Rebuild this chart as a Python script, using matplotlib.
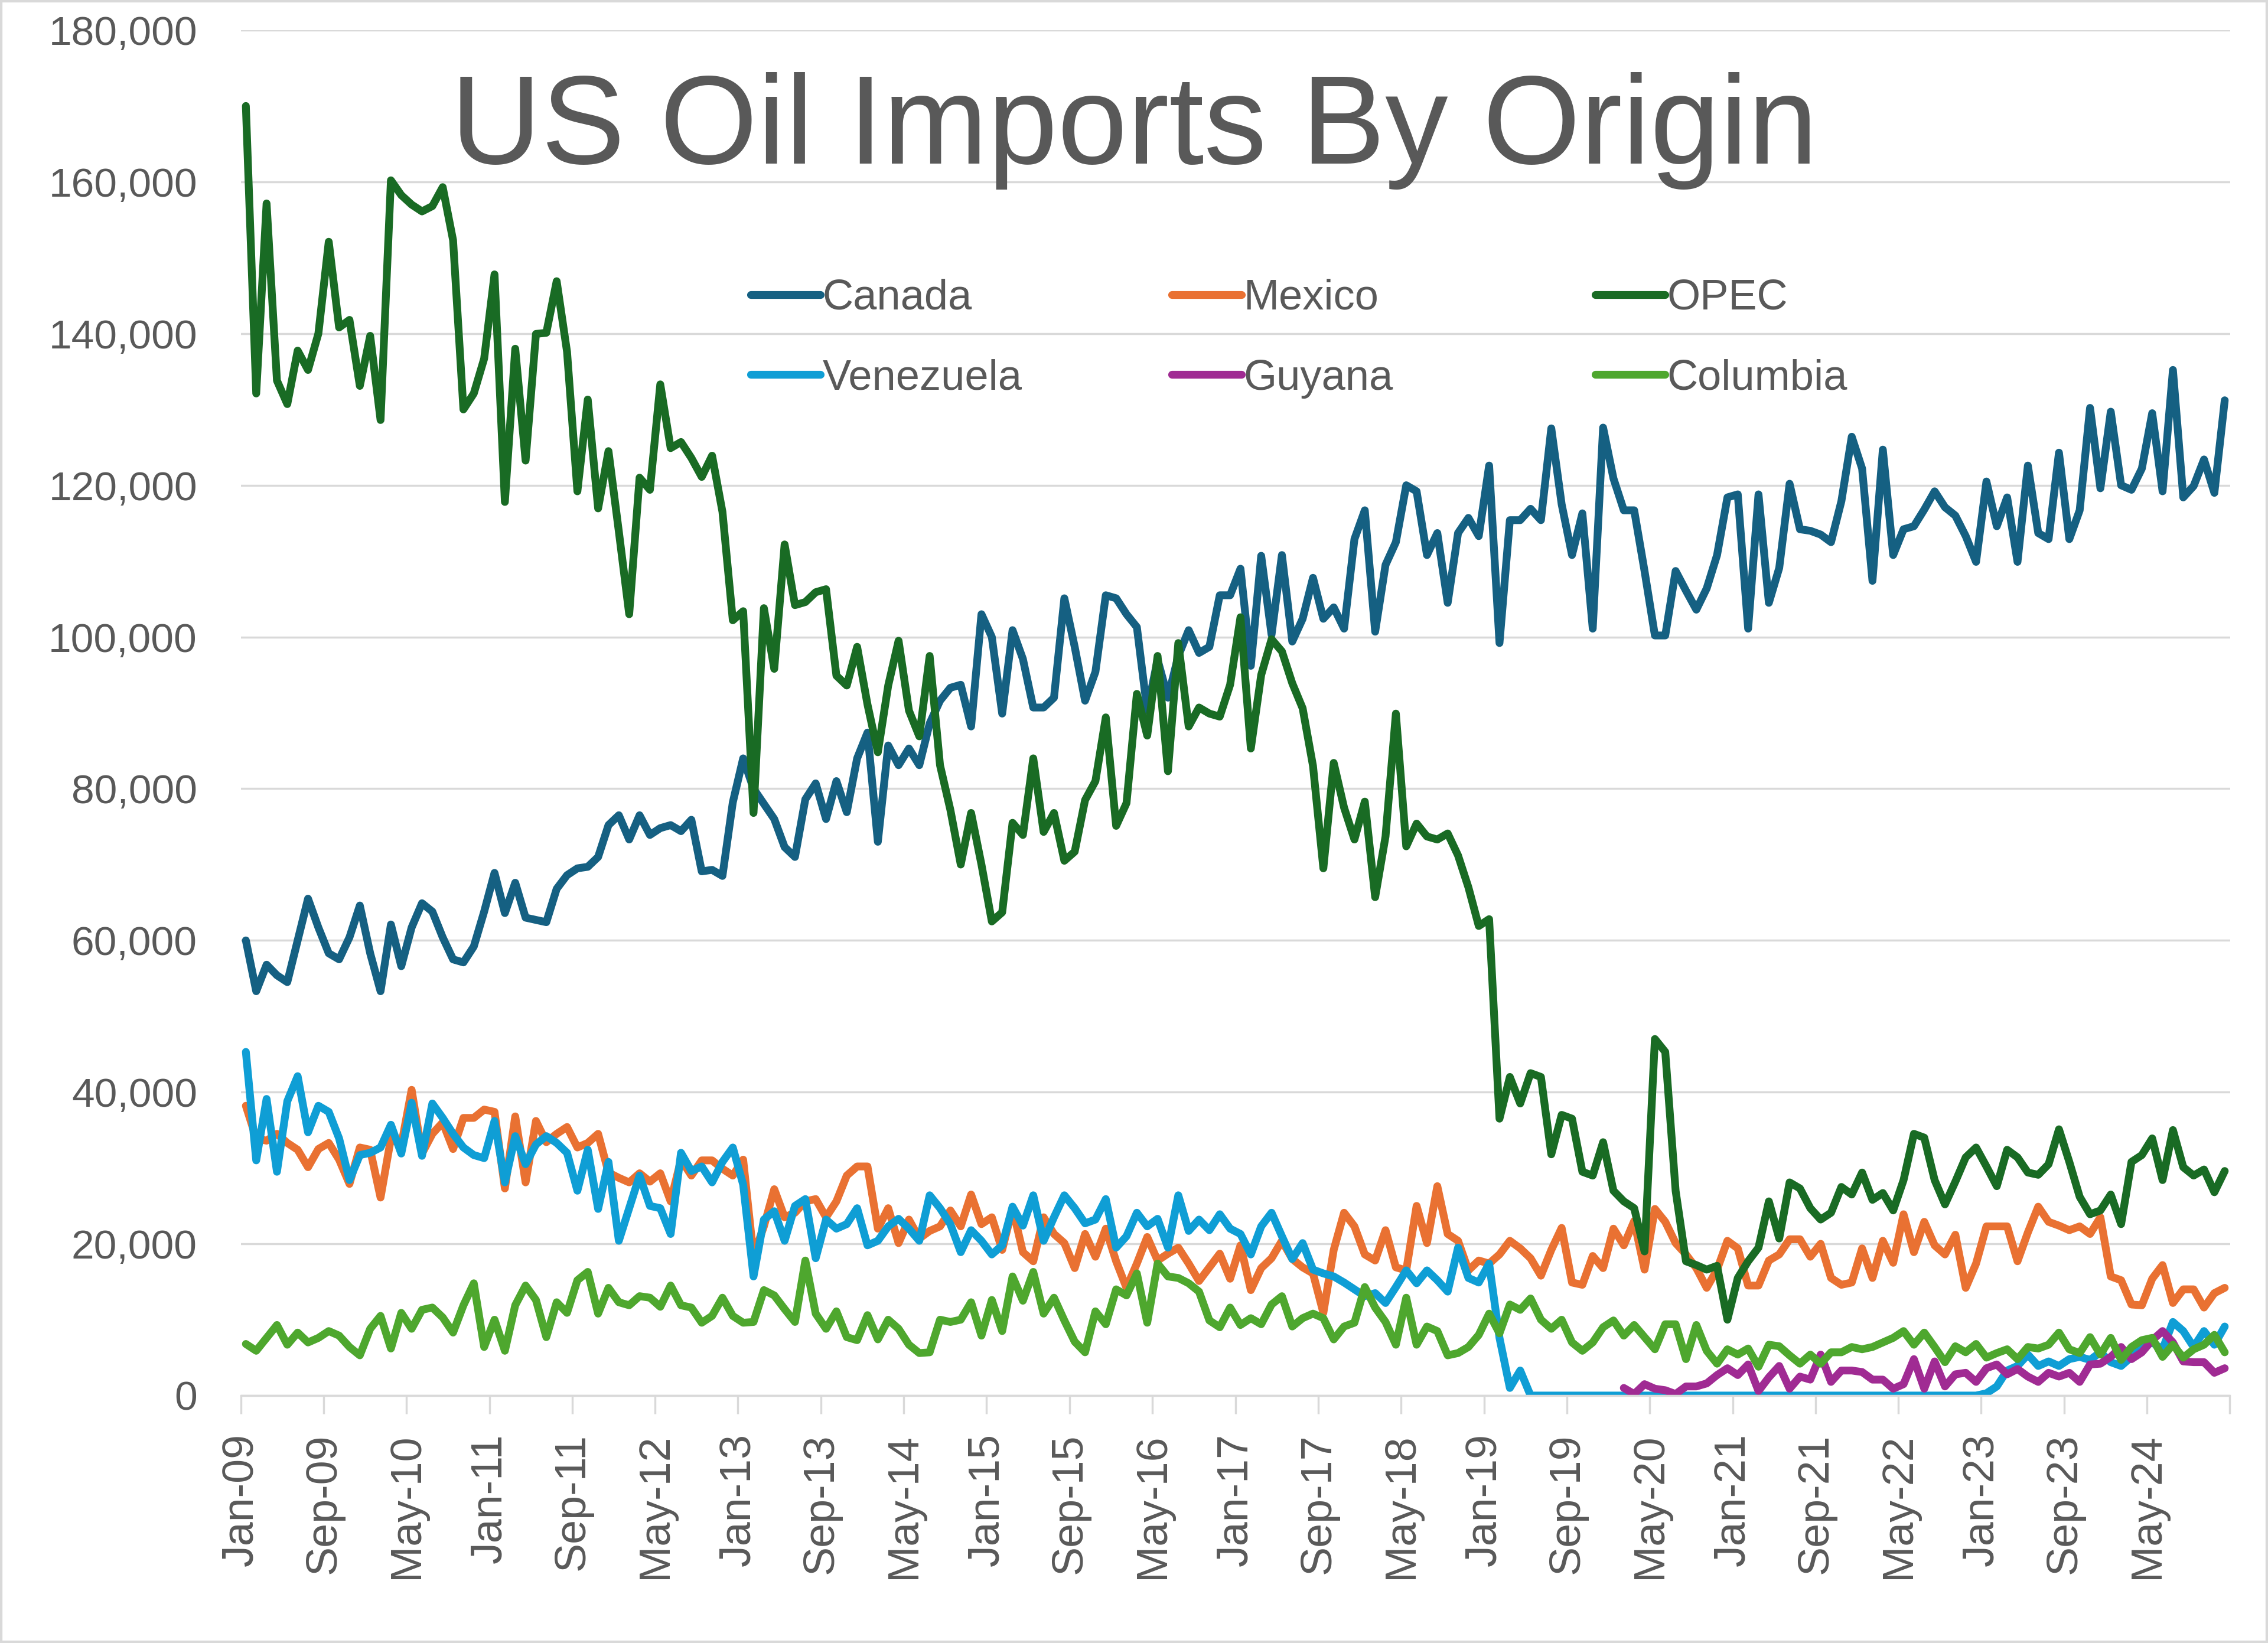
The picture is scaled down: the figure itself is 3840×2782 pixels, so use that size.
import matplotlib
matplotlib.use('Agg')
import matplotlib.pyplot as plt
from matplotlib.patches import Rectangle
from matplotlib.ticker import FuncFormatter

plt.rcParams['font.family'] = ['Liberation Sans', 'DejaVu Sans']

# Monthly imports, Jan-09 .. Dec-24 (one row per year)
canada = [
    60000, 53300, 56800, 55400, 54500, 60000, 65500, 61700, 58300, 57500, 60400, 64600,
    58300, 53300, 62100, 56600, 61700, 64900, 63800, 60400, 57500, 57100, 59200, 63800,
    68900, 63600, 67600, 63000, 62700, 62400, 66800, 68600, 69500, 69700, 71000, 75200,
    76500, 73300, 76500, 73900, 74800, 75200, 74400, 75900, 69100, 69300, 68500, 78200,
    84000, 80000, 78000, 76000, 72300, 71000, 78600, 80700, 76000, 81000, 76900, 84000,
    87400, 73000, 85700, 83100, 85300, 83100, 88600, 91600, 93300, 93700, 88200, 103000,
    100000, 89900, 100900, 97100, 90700, 90700, 92000, 105100, 98700, 91600, 95400, 105500,
    105100, 103000, 101300, 90300, 97000, 92000, 97500, 100900, 97900, 98700, 105500, 105500,
    109000, 96200, 110700, 100300, 110800, 99400, 102400, 107800, 102400, 103900, 101100, 112900,
    116700, 100700, 109500, 112500, 120000, 119200, 110800, 113700, 104500, 113700, 115700, 113300,
    122600, 99200, 115400, 115400, 116900, 115400, 127500, 117500, 110800, 116300, 101100, 127600,
    120900, 116700, 116700, 108700, 100200, 100200, 108700, 106100, 103600, 106400, 110800, 118400,
    118800, 101100, 118800, 104500, 109100, 120200, 114200, 114000, 113500, 112500, 117900, 126400,
    122200, 107400, 124700, 110800, 114200, 114600, 116800, 119200, 117100, 116000, 113300, 109900,
    120500, 114600, 118400, 109900, 122600, 113700, 112900, 124300, 112900, 116700, 130200, 119600,
    129700, 120000, 119400, 122200, 129500, 119200, 135200, 118400, 119900, 123400, 119000, 131200,
]

mexico = [
    38200, 33900, 33600, 34500, 33300, 32400, 30100, 32500, 33300, 31100, 27900, 32700,
    32400, 26100, 33900, 33000, 40300, 31900, 34500, 36000, 32500, 36600, 36600, 37700,
    37400, 27300, 36800, 28100, 36200, 33400, 34500, 35400, 32700, 33300, 34500, 29400,
    28700, 28100, 29300, 28200, 29300, 25600, 31100, 29000, 31000, 31000, 29900, 29000,
    31100, 18400, 22300, 27200, 23500, 24100, 25600, 25900, 23500, 25600, 29000, 30200,
    30200, 22000, 24700, 20100, 23200, 20700, 21700, 22300, 24400, 22300, 26500, 22600,
    23500, 19200, 24700, 18900, 17700, 23500, 21300, 20100, 16800, 21300, 18300, 22000,
    17700, 14200, 17400, 20900, 17800, 18700, 19500, 17400, 15100, 16900, 18700, 15400,
    19800, 13900, 16800, 18100, 20400, 18000, 16900, 16100, 10900, 19200, 24100, 22300,
    18600, 17800, 21800, 16900, 16500, 25000, 20100, 27600, 21300, 20400, 16500, 17800,
    17400, 18600, 20400, 19400, 18100, 15800, 19200, 22100, 14900, 14600, 18400, 16800,
    22000, 19800, 23000, 16600, 24600, 22900, 20100, 18600, 16800, 14200, 16600, 20400,
    19400, 14500, 14500, 17800, 18600, 20600, 20600, 18300, 20000, 15500, 14600, 14900,
    19400, 15500, 20400, 17500, 23900, 18900, 22900, 19800, 18600, 21200, 14200, 17400,
    22300, 22300, 22300, 17700, 21500, 24900, 22900, 22400, 21800, 22300, 21300, 23500,
    15700, 15200, 12000, 11900, 15400, 17200, 12200, 14000, 14000, 11600, 13500, 14200,
]

opec = [
    170000, 132100, 157150, 133800, 130700, 137750, 135200, 140000, 152100, 140800, 141800, 133100,
    139700, 128600, 160200, 158250, 157000, 156100, 156800, 159300, 152300, 130000, 132100, 136700,
    147800, 117800, 138000, 123250, 139950, 140100, 146900, 137600, 119200, 131300, 116950, 124500,
    113900, 103000, 121000, 119400, 133300, 124900, 125700, 123600, 121100, 123900, 116500, 102200,
    103400, 76800, 103800, 95800, 112200, 104200, 104600, 105900, 106300, 94900, 93600, 98700,
    91100, 84800, 93600, 99500, 90300, 86900, 97500, 83100, 77200, 70000, 76800, 70000,
    62500, 63700, 75500, 73900, 84000, 74300, 76800, 70500, 71700, 78500, 81000, 89400,
    75100, 78100, 92500, 87000, 97500, 82300, 99200, 88200, 90700, 89900, 89500, 93700,
    102600, 85300, 95000, 99700, 98100, 93900, 90600, 83000, 69500, 83400, 77500, 73300,
    78300, 65700, 73700, 89900, 72400, 75400, 73700, 73300, 74100, 71200, 67000, 61900,
    62800, 36500, 42000, 38500, 42500, 42000, 31800, 37000, 36500, 29500, 29000, 33400,
    27000, 25600, 24700, 19000, 47000, 45300, 27000, 17700, 17200, 16600, 17100, 10000,
    15500, 17700, 19500, 25600, 20700, 28100, 27300, 24700, 23200, 24100, 27500, 26500,
    29400, 25800, 26700, 24400, 28400, 34500, 34000, 28400, 25200, 28200, 31400, 32700,
    30200, 27600, 32400, 31400, 29400, 29100, 30500, 35100, 30800, 26200, 23900, 24400,
    26500, 22600, 30800, 31700, 33900, 28400, 35000, 30100, 29000, 29800, 26800, 29600,
]

venezuela = [
    45300, 31000, 39100, 29500, 38800, 42100, 34700, 38200, 37400, 33900, 28400, 31700,
    32000, 32700, 35700, 31900, 38600, 31600, 38500, 36600, 34500, 32700, 31700, 31300,
    36200, 28100, 34200, 30500, 33100, 34200, 33300, 32000, 27000, 32400, 24600, 30800,
    20400, 24700, 29000, 25000, 24700, 21300, 32000, 29600, 30200, 28100, 30800, 32700,
    27800, 15700, 23200, 24300, 20400, 25000, 25900, 18100, 23200, 22000, 22600, 24700,
    19800, 20400, 22300, 23300, 22000, 20400, 26400, 24700, 22600, 18900, 21800, 20400,
    18600, 19800, 24900, 22400, 26400, 20400, 23500, 26400, 24700, 22700, 23200, 25900,
    19500, 21000, 24100, 22300, 23300, 19500, 26400, 21700, 23200, 21800, 23900, 22000,
    21300, 18600, 22300, 24100, 21000, 18000, 20100, 16600, 16100, 15700, 14900, 14000,
    13100, 13500, 12200, 14300, 16500, 14800, 16500, 15200, 13700, 19500, 15500, 14900,
    17400, 7600, 1000, 3300, 0, 0, 0, 0, 0, 0, 0, 0,
    0, 0, 0, 0, 0, 0, 0, 0, 0, 0, 0, 0,
    0, 0, 0, 0, 0, 0, 0, 0, 0, 0, 0, 0,
    0, 0, 0, 0, 0, 0, 0, 0, 0, 0, 0, 0,
    300, 1200, 3300, 3900, 5400, 3900, 4500, 3900, 4800, 5100, 4700, 5700,
    4400, 3900, 5100, 6400, 7000, 6100, 9700, 8500, 6400, 8500, 6700, 9100,
]

# Guyana is reported from Feb-20 onward
guyana_first_month = 133
guyana = [
    1000, 200, 1500, 900, 700, 200, 1200, 1200, 1600, 2700, 3600,
    2700, 4100, 600, 2400, 3900, 900, 2500, 2100, 5400, 1800, 3300, 3300,
    3100, 2100, 2100, 900, 1500, 4800, 900, 4500, 1200, 2800, 3000, 1800,
    3600, 4100, 2800, 3500, 2500, 1800, 3000, 2500, 3000, 1800, 4100, 4200,
    5100, 6400, 4800, 5700, 7300, 8500, 7000, 4500, 4400, 4400, 3000, 3600,
]

columbia = [
    6800, 5900, 7600, 9300, 6700, 8300, 7000, 7600, 8500, 7900, 6400, 5300,
    8800, 10500, 6200, 10900, 8800, 11300, 11600, 10300, 8300, 11900, 14800, 6400,
    10000, 5900, 11900, 14500, 12600, 7700, 12300, 10900, 15200, 16300, 10800, 14200,
    12300, 11900, 13100, 12900, 11700, 14500, 11900, 11600, 9600, 10500, 12900, 10500,
    9600, 9700, 13900, 13200, 11400, 9700, 17800, 10800, 8800, 11100, 7700, 7300,
    10600, 7400, 10000, 8800, 6700, 5600, 5700, 10000, 9700, 10000, 12300, 7900,
    12600, 8500, 15700, 12500, 16300, 10800, 12900, 9900, 7100, 5700, 11100, 9400,
    14000, 13200, 16100, 9600, 17400, 15700, 15500, 14800, 13700, 9900, 9000, 11600,
    9300, 10200, 9400, 12000, 13100, 9100, 10200, 10800, 10200, 7400, 9100, 9600,
    14300, 11600, 9700, 6700, 12900, 6700, 9100, 8500, 5300, 5600, 6400, 8000,
    10800, 8200, 12000, 11300, 12800, 10000, 8800, 10000, 7000, 5900, 7000, 9000,
    9900, 7900, 9300, 7700, 6100, 9400, 9400, 4800, 9300, 5900, 4200, 6100,
    5400, 6200, 3800, 6700, 6500, 5300, 4200, 5400, 4200, 5700, 5700, 6400,
    6100, 6400, 7000, 7600, 8500, 6700, 8300, 6400, 4400, 6500, 5700, 6800,
    5000, 5600, 6100, 4800, 6400, 6200, 6700, 8300, 6100, 5600, 7700, 5400,
    7600, 4700, 6400, 7300, 7600, 5100, 6700, 5000, 6100, 6700, 8000, 5700,
]

tick_labels = ['Jan-09', 'Sep-09', 'May-10', 'Jan-11', 'Sep-11', 'May-12', 'Jan-13', 'Sep-13',
               'May-14', 'Jan-15', 'Sep-15', 'May-16', 'Jan-17', 'Sep-17', 'May-18', 'Jan-19',
               'Sep-19', 'May-20', 'Jan-21', 'Sep-21', 'May-22', 'Jan-23', 'Sep-23', 'May-24']

months = list(range(len(canada)))
grey = '#595959'
light = '#d9d9d9'

fig = plt.figure(figsize=(38.4, 27.82), dpi=100)
ax = fig.add_axes([407.5 / 3840, 1 - 2363 / 2782, 3368 / 3840, 2312 / 2782])

style = dict(linewidth=9.5, solid_joinstyle='round', solid_capstyle='round')
l_can, = ax.plot(months, canada, color='#156082', label='Canada', **style)
l_mex, = ax.plot(months, mexico, color='#E97132', label='Mexico', **style)
l_opec, = ax.plot(months, opec, color='#196B24', label='OPEC', **style)
l_ven, = ax.plot(months, venezuela, color='#0F9ED5', label='Venezuela', **style)
l_guy, = ax.plot(months[guyana_first_month:], guyana, color='#A02B93', label='Guyana', **style)
l_col, = ax.plot(months, columbia, color='#4EA72E', label='Columbia', **style)

ax.set_xlim(-0.5, len(months) - 0.5)
ax.set_ylim(0, 180000)
ax.set_yticks(range(0, 180001, 20000))
ax.yaxis.set_major_formatter(FuncFormatter(lambda v, p: f'{v:,.0f}'))
ax.set_xticks([m - 0.5 for m in range(0, len(months) + 1, 8)])
ax.set_xticklabels(tick_labels + [''])

ax.yaxis.grid(True, color=light, linewidth=2.5)
ax.set_axisbelow(True)
for s in ['left', 'right', 'top']:
    ax.spines[s].set_visible(False)
ax.spines['bottom'].set_color(light)
ax.spines['bottom'].set_linewidth(2.5)
ax.tick_params(axis='x', length=22, width=2.5, color=light, pad=24,
               labelsize=53, labelcolor=grey, labelrotation=90)
ax.tick_params(axis='y', length=0, pad=53, labelsize=50, labelcolor=grey)

fig.text(0.5, 1 - 277 / 2782, 'US Oil Imports By Origin', ha='center', va='baseline',
         fontsize=153, color=grey)

# legend: three columns of two rows, placed like the original
cols = [([l_can, l_ven], 1271), ([l_mex, l_guy], 1984), ([l_opec, l_col], 2701)]
for handles, x in cols:
    fig.legend(handles=handles, loc='upper left', bbox_to_anchor=(x / 3840, 1 - 472 / 2782),
               frameon=False, fontsize=52, handlelength=1.63, handletextpad=0.05,
               labelspacing=0.95, borderpad=0, borderaxespad=0, labelcolor=grey)

fig.patches.append(Rectangle((0, 0), 1, 1, transform=fig.transFigure, fill=False,
                             edgecolor=light, linewidth=6))

fig.savefig('out.png', dpi=100)
